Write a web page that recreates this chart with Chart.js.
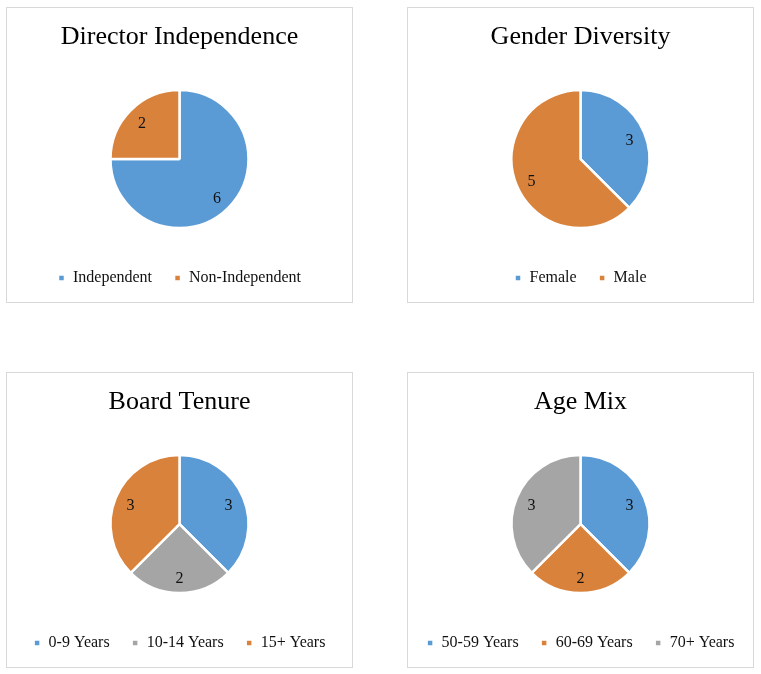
<!DOCTYPE html>
<html>
<head>
<meta charset="utf-8">
<script src="https://cdn.jsdelivr.net/npm/chart.js@4"></script>
<style>
  body { margin: 0; background: #fff; }
  .panel { position: absolute; width: 345px; height: 294px; border: 1px solid #d9d9d9; background: #fff; overflow: hidden; }
  /* canvas a bit wider than the panel so the 3-item legends stay on one row */
  .panel canvas { display: block; margin-left: -20px; }
</style>
</head>
<body>
<div class="panel" style="left:6px; top:7px;"><canvas id="independenceChart" width="385" height="294"></canvas></div>
<div class="panel" style="left:407px; top:7px;"><canvas id="genderChart" width="385" height="294"></canvas></div>
<div class="panel" style="left:6px; top:372px;"><canvas id="tenureChart" width="385" height="294"></canvas></div>
<div class="panel" style="left:407px; top:372px;"><canvas id="ageChart" width="385" height="294"></canvas></div>

<script>
// data
const independenceLabels = ['Independent', 'Non-Independent'];
const independenceValues = [6, 2];

const genderLabels = ['Female', 'Male'];
const genderValues = [3, 5];

const tenureLabels = ['0-9 Years', '10-14 Years', '15+ Years'];
const tenureValues = [3, 2, 3];

const ageLabels = ['50-59 Years', '60-69 Years', '70+ Years'];
const ageValues = [3, 2, 3];

const BLUE = '#5b9bd5';
const ORANGE = '#d9823b';
const GRAY = '#a5a5a5';

// value labels inside each slice
const sliceLabels = {
  id: 'sliceLabels',
  afterDatasetsDraw(chart) {
    const ctx = chart.ctx;
    const meta = chart.getDatasetMeta(0);
    const values = chart.data.datasets[0].data;
    ctx.save();
    ctx.font = '16px "Liberation Serif", "Times New Roman", serif';
    ctx.fillStyle = '#111';
    ctx.textAlign = 'center';
    ctx.textBaseline = 'middle';
    meta.data.forEach((arc, i) => {
      const p = arc.getProps(['x', 'y', 'startAngle', 'endAngle', 'outerRadius'], true);
      const mid = (p.startAngle + p.endAngle) / 2;
      const r = p.outerRadius * 0.77;
      ctx.fillText(String(values[i]), p.x + Math.cos(mid) * r, p.y + 2 + Math.sin(mid) * r);
    });
    ctx.restore();
  }
};

function makePie(id, title, labels, values, colors) {
  new Chart(document.getElementById(id), {
    type: 'pie',
    data: {
      labels,
      datasets: [{
        data: values,
        backgroundColor: colors,
        borderColor: '#ffffff',
        borderWidth: 2.5,
        radius: 69
      }]
    },
    options: {
      responsive: false,
      animation: false,
      layout: { padding: { bottom: 6 } },
      plugins: {
        title: {
          display: true,
          text: title,
          color: '#000',
          font: { family: '"Liberation Serif", "Times New Roman", serif', size: 26, weight: 'normal', lineHeight: 1.2 },
          padding: { top: 14, bottom: 17 }
        },
        legend: {
          position: 'bottom',
          labels: {
            color: '#111',
            font: { family: '"Liberation Serif", "Times New Roman", serif', size: 16 },
            boxWidth: 7,
            boxHeight: 7,
            padding: 22
          }
        },
        tooltip: { enabled: false }
      }
    },
    plugins: [sliceLabels]
  });
}

makePie('independenceChart', 'Director Independence', independenceLabels, independenceValues, [BLUE, ORANGE]);
makePie('genderChart', 'Gender Diversity', genderLabels, genderValues, [BLUE, ORANGE]);
makePie('tenureChart', 'Board Tenure', tenureLabels, tenureValues, [BLUE, GRAY, ORANGE]);
makePie('ageChart', 'Age Mix', ageLabels, ageValues, [BLUE, ORANGE, GRAY]);
</script>
</body>
</html>
